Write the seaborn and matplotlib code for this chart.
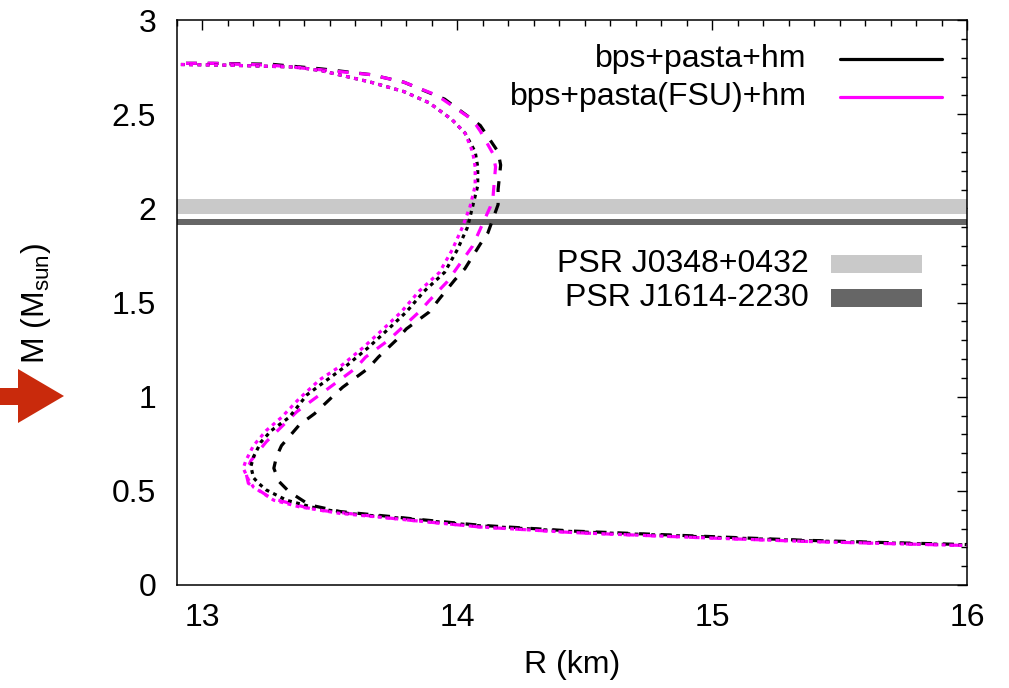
import numpy as np
import pandas as pd
import matplotlib
matplotlib.use("Agg")
import matplotlib.pyplot as plt
import seaborn as sns
from matplotlib.ticker import MultipleLocator, FuncFormatter
from matplotlib.patches import Polygon, Rectangle
from matplotlib.lines import Line2D

# ---------------- data ----------------
# black dashed
R_black_dashed = [12.85, 13.04, 13.27, 13.47, 13.66, 13.79, 13.95, 14.09, 14.16, 14.17, 14.16, 14.16,
                  14.12, 14.09, 14.03, 13.99, 13.93, 13.89, 13.80, 13.76, 13.69, 13.65, 13.55, 13.51,
                  13.44, 13.38, 13.31, 13.29, 13.28, 13.30, 13.34, 13.42, 13.54, 13.75, 13.82, 14.09,
                  14.46, 14.94, 15.35, 15.66, 16.05]
M_black_dashed = [2.77, 2.77, 2.765, 2.74, 2.71, 2.67, 2.58, 2.44, 2.30, 2.23, 2.10, 2.02,
                  1.87, 1.81, 1.68, 1.62, 1.52, 1.45, 1.36, 1.30, 1.21, 1.15, 1.05, 1.00,
                  0.91, 0.85, 0.74, 0.68, 0.62, 0.55, 0.495, 0.425, 0.39, 0.362, 0.352, 0.317,
                  0.286, 0.26, 0.238, 0.226, 0.213]
# magenta dashed
R_mag_dashed = [12.85, 13.04, 13.27, 13.47, 13.66, 13.79, 13.92, 14.06, 14.09, 14.14, 14.15, 14.14,
                14.13, 14.08, 14.06, 13.96, 13.89, 13.85, 13.77, 13.73, 13.64, 13.60, 13.51, 13.46,
                13.37, 13.25, 13.19, 13.17, 13.18, 13.27, 13.44, 13.75, 13.82, 14.09, 14.46, 14.94,
                15.35, 15.66, 16.05]
M_mag_dashed = [2.77, 2.77, 2.76, 2.735, 2.71, 2.67, 2.60, 2.47, 2.41, 2.29, 2.22, 2.06,
                2.01, 1.86, 1.80, 1.61, 1.51, 1.45, 1.35, 1.30, 1.21, 1.15, 1.06, 1.01,
                0.92, 0.76, 0.66, 0.60, 0.54, 0.46, 0.40, 0.353, 0.343, 0.308, 0.278, 0.252,
                0.232, 0.221, 0.208]
# black dotted
R_black_dotted = [12.85, 13.10, 13.37, 13.47, 13.66, 13.79, 13.89, 13.98, 14.03, 14.07, 14.08, 14.08,
                  14.06, 14.04, 14.00, 13.95, 13.87, 13.80, 13.73, 13.65, 13.57, 13.49, 13.41, 13.34,
                  13.27, 13.23, 13.20, 13.19, 13.20, 13.22, 13.25, 13.33, 13.44, 13.57, 13.75, 13.82,
                  14.09, 14.46, 14.94, 15.35, 15.66, 16.05]
M_black_dotted = [2.765, 2.76, 2.75, 2.73, 2.67, 2.62, 2.56, 2.47, 2.40, 2.30, 2.22, 2.12,
                  2.01, 1.90, 1.78, 1.66, 1.56, 1.45, 1.36, 1.26, 1.17, 1.09, 1.01, 0.89,
                  0.82, 0.76, 0.68, 0.63, 0.57, 0.54, 0.505, 0.45, 0.41, 0.38, 0.358, 0.349,
                  0.314, 0.283, 0.257, 0.236, 0.224, 0.211]
# magenta dotted
R_mag_dotted = [12.85, 13.10, 13.37, 13.47, 13.66, 13.79, 13.89, 13.98, 14.03, 14.06, 14.07, 14.07,
                14.05, 14.02, 13.98, 13.93, 13.85, 13.78, 13.71, 13.63, 13.55, 13.46, 13.38, 13.31,
                13.25, 13.20, 13.17, 13.16, 13.18, 13.20, 13.28, 13.38, 13.54, 13.75, 13.82, 14.09,
                14.46, 14.94, 15.35, 15.66, 16.05]
M_mag_dotted = [2.765, 2.76, 2.75, 2.73, 2.67, 2.62, 2.56, 2.47, 2.40, 2.30, 2.22, 2.12,
                2.01, 1.90, 1.78, 1.66, 1.56, 1.45, 1.36, 1.26, 1.17, 1.09, 0.99, 0.89,
                0.82, 0.74, 0.66, 0.62, 0.56, 0.52, 0.45, 0.415, 0.38, 0.353, 0.343, 0.308,
                0.278, 0.252, 0.232, 0.221, 0.208]

legend_labels = ["bps+pasta+hm", "bps+pasta(FSU)+hm"]
psr_names = ["PSR J0348+0432", "PSR J1614-2230"]
psr_low = [1.97, 1.911]
psr_high = [2.05, 1.945]

x_ticks = [13, 14, 15, 16]
y_ticks = [0, 0.5, 1, 1.5, 2, 2.5, 3]

# ---------------- build table ----------------
frames = []
for name, R, M in [("black dashed", R_black_dashed, M_black_dashed),
                   ("magenta dashed", R_mag_dashed, M_mag_dashed),
                   ("black dotted", R_black_dotted, M_black_dotted),
                   ("magenta dotted", R_mag_dotted, M_mag_dotted)]:
    frames.append(pd.DataFrame({"R": R, "M": M, "curve": name}))
df = pd.concat(frames, ignore_index=True)

palette = {"black dashed": "black", "magenta dashed": "#ff00ff",
           "black dotted": "black", "magenta dotted": "#ff00ff"}
dashes = {"black dashed": (3.4, 3.4), "magenta dashed": (3.4, 3.4),
          "black dotted": (1.2, 1.4), "magenta dotted": (1.2, 1.4)}

# ---------------- style ----------------
sns.set_theme(style="white")
plt.rcParams["font.family"] = ["Liberation Sans", "DejaVu Sans"]
plt.rcParams["mathtext.fontset"] = "custom"
plt.rcParams["mathtext.rm"] = "Liberation Sans"
plt.rcParams["mathtext.it"] = "Liberation Sans"
for k in ["text.color", "axes.labelcolor", "xtick.color", "ytick.color"]:
    plt.rcParams[k] = "black"

W, H = 1009, 688
fig = plt.figure(figsize=(W / 100, H / 100), dpi=100)
ax = fig.add_axes([177 / W, 1 - 585 / H, 790 / W, 565 / H])

FS = 23

# bands
band_colors = ["#c9c9c9", "#666666"]
for lo, hi, c in zip(psr_low, psr_high, band_colors):
    ax.axhspan(lo, hi, color=c, lw=0, zorder=1)

sns.lineplot(data=df, x="R", y="M", hue="curve", style="curve", sort=False,
             estimator=None, palette=palette, dashes=dashes, lw=2.3,
             legend=False, ax=ax, zorder=3)

ax.set_xlim(12.9, 16)
ax.set_ylim(0, 3)
ax.xaxis.set_major_locator(plt.FixedLocator(x_ticks))
ax.yaxis.set_major_locator(plt.FixedLocator(y_ticks))
ax.xaxis.set_minor_locator(MultipleLocator(0.1))
ax.yaxis.set_minor_locator(MultipleLocator(0.1))
fmt = FuncFormatter(lambda v, p: "%g" % v)
ax.xaxis.set_major_formatter(fmt)
ax.yaxis.set_major_formatter(fmt)
ax.tick_params(which="both", direction="in", top=True, right=True, color="black",
               width=1.0, labelsize=FS, labelcolor="black")
ax.tick_params(which="major", length=7)
ax.tick_params(which="minor", length=4)
ax.tick_params(axis="x", which="major", pad=13)
ax.tick_params(axis="y", which="major", pad=15)
for s in ax.spines.values():
    s.set_color("black")
    s.set_linewidth(1.1)

ax.set_xlabel("R (km)", fontsize=FS, labelpad=12, color="black")
ax.set_ylabel("")
fig.text(36 / W, 1 - 304 / H, r"M (M$_{\rm sun}$)", rotation=90, ha="center",
         va="center", fontsize=FS, color="black")

# legend for curves (gnuplot style: text right, sample on right)
leg_y = [0.931, 0.864]
leg_col = ["black", "#ff00ff"]
for lab, y, c in zip(legend_labels, leg_y, leg_col):
    ax.text(0.797, y, lab, ha="right", va="center", fontsize=FS, transform=ax.transAxes,
            color="black")
    ax.add_line(Line2D([0.839, 0.968], [y, y], transform=ax.transAxes, color=c, lw=2.3))

psr_y = [0.568, 0.508]
for name, y, c in zip(psr_names, psr_y, band_colors):
    ax.text(0.800, y, name, ha="right", va="center", fontsize=FS, transform=ax.transAxes,
            color="black")
    ax.add_patch(Rectangle((0.828, y - 0.016), 0.115, 0.032, transform=ax.transAxes,
                           color=c, lw=0, zorder=4))

# red arrow annotation on the left
arrow_px = [(0, 388), (18, 388), (18, 369), (64, 396), (18, 423), (18, 405), (0, 405)]
arrow = Polygon([(x / W, 1 - y / H) for x, y in arrow_px], closed=True,
                transform=fig.transFigure, color="#c92a0c", lw=0)
fig.patches.append(arrow)

fig.savefig("out.png", dpi=100)
